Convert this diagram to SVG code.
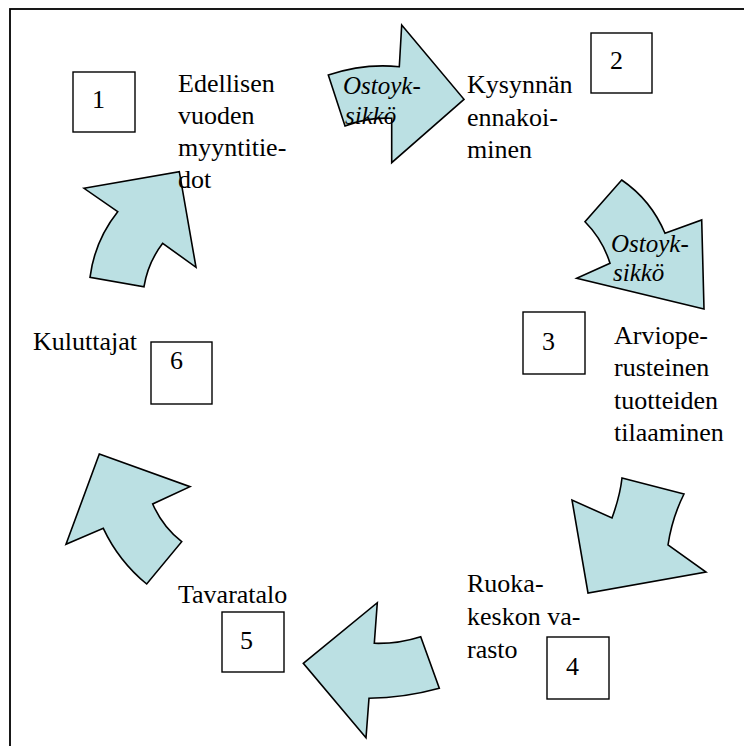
<svg xmlns="http://www.w3.org/2000/svg" width="744" height="746" viewBox="0 0 744 746">
  <style>
    .frame { fill: none; stroke: #000; stroke-width: 1.8; }
    .box { fill: #fff; stroke: #000; stroke-width: 1.4; }
    text { font-family: 'Liberation Serif', 'DejaVu Serif', 'Times New Roman', Times, serif; fill: #000; }
    .num { font-size: 26px; }
    .lbl { font-size: 26px; }
    .ital { font-size: 25px; font-style: italic; }
    .arrow { fill: #BBE0E3; stroke: #000; stroke-width: 1.6; stroke-linejoin: miter; }
  </style>

  <rect width="744" height="746" fill="#fff"/>
  <!-- page frame, open on right and bottom -->
  <rect class="frame" x="10" y="9" width="800" height="800"/>

  <!-- curved block arrows linking the steps -->
  <g id="connectors">
    <g id="arrow-1-2">
      <path class="arrow" d="M328.3,75 Q364,63 399.3,66.7 L401.7,25 L464,99.3 L391.7,162.7 L391.7,118.3 Q368,117 345,126 Z"/>
      <text class="ital" x="343" y="94" font-family="Liberation Serif, DejaVu Serif, serif">Ostoyk-</text>
      <text class="ital" x="345" y="124" font-family="Liberation Serif, DejaVu Serif, serif">sikkö</text>
    </g>
    <g id="arrow-2-3">
      <path class="arrow" d="M621.7,180 Q651,200 665,233.3 L701.7,220 L704,309 L576.7,278.3 L610,263.3 Q602.6,239.4 585,221.7 Z"/>
      <text class="ital" x="611" y="252" font-family="Liberation Serif, DejaVu Serif, serif">Ostoyk-</text>
      <text class="ital" x="613" y="281" font-family="Liberation Serif, DejaVu Serif, serif">sikkö</text>
    </g>
    <g id="arrow-3-4">
      <path class="arrow" d="M622,478 L684,494 Q672,518 668,545 L706,572 L588,593 L572,500 L612,518 Q620,496 622,478 Z"/>
    </g>
    <g id="arrow-4-5">
      <path class="arrow" d="M377.3,602.7 L374.3,643.3 Q398,644 420.7,636.7 L439.3,688.3 Q404,698 369,698.3 L366,737.7 L303.3,663.3 Z"/>
    </g>
    <g id="arrow-5-6">
      <path class="arrow" d="M99.3,454 L190,486.7 L152.7,504 Q162.5,526.6 181.7,541.7 L146.7,584 Q118.7,561 103.3,528.3 L66,544.3 Z"/>
    </g>
    <g id="arrow-6-1">
      <path class="arrow" d="M84,188.3 L179.3,171.7 L196,267.3 L162.7,243.3 Q147.9,262.6 144,286.7 L90,277.3 Q94.7,240.6 117.7,211.7 Z"/>
    </g>
  </g>

  <g id="step-1">
    <rect class="box" x="73" y="72" width="62" height="60"/>
    <text class="num" x="92" y="108">1</text>
    <text class="lbl" x="178" y="92">Edellisen</text>
    <text class="lbl" x="178" y="124">vuoden</text>
    <text class="lbl" x="178" y="156">myyntitie-</text>
    <text class="lbl" x="178" y="188">dot</text>
  </g>

  <g id="step-2">
    <rect class="box" x="591" y="33" width="61" height="60"/>
    <text class="num" x="610" y="69">2</text>
    <text class="lbl" x="467" y="93">Kysynnän</text>
    <text class="lbl" x="467" y="125.5">ennakoi-</text>
    <text class="lbl" x="467" y="158">minen</text>
  </g>

  <g id="step-3">
    <rect class="box" x="523" y="312" width="62" height="62"/>
    <text class="num" x="542" y="350">3</text>
    <text class="lbl" x="614" y="343.5">Arviope-</text>
    <text class="lbl" x="614" y="376">rusteinen</text>
    <text class="lbl" x="614" y="408.5">tuotteiden</text>
    <text class="lbl" x="614" y="441">tilaaminen</text>
  </g>

  <g id="step-4">
    <rect class="box" x="547" y="637" width="62" height="62"/>
    <text class="num" x="566" y="675">4</text>
    <text class="lbl" x="467" y="592">Ruoka-</text>
    <text class="lbl" x="467" y="625">keskon va-</text>
    <text class="lbl" x="467" y="658">rasto</text>
  </g>

  <g id="step-5">
    <rect class="box" x="222" y="612" width="62" height="60"/>
    <text class="num" x="240" y="649">5</text>
    <text class="lbl" x="178" y="603">Tavaratalo</text>
  </g>

  <g id="step-6">
    <rect class="box" x="151" y="342" width="61" height="62"/>
    <text class="num" x="170" y="369">6</text>
    <text class="lbl" x="33" y="350">Kuluttajat</text>
  </g>
</svg>
